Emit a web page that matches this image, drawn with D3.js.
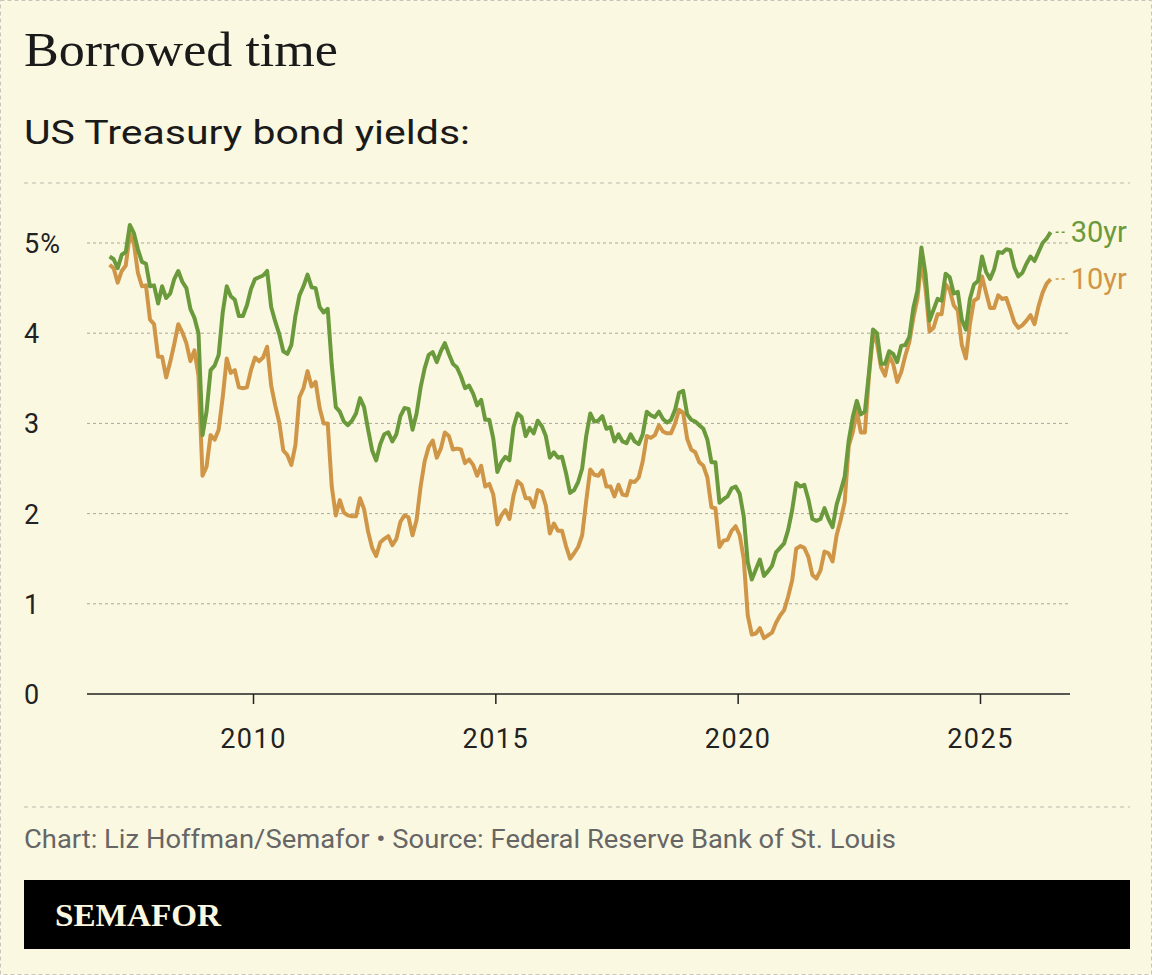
<!DOCTYPE html>
<html><head><meta charset="utf-8">
<script src="https://cdn.jsdelivr.net/npm/d3@7"></script>
<style>
body{margin:0;background:#fff;}
svg{display:block;}
</style></head><body>
<svg id="chart" width="1152" height="975"></svg>
<script>
// monthly averages, Jan 2007 onward
const startYear = 2007;
const tenYear = [
4.76,4.72,4.56,4.69,4.75,5.10,5.00,4.67,4.52,4.53,4.15,4.10,
3.74,3.74,3.51,3.68,3.88,4.10,4.01,3.89,3.69,3.81,3.53,2.42,
2.52,2.87,2.82,2.93,3.29,3.72,3.56,3.59,3.40,3.39,3.40,3.59,
3.73,3.69,3.73,3.85,3.42,3.20,3.01,2.70,2.65,2.54,2.76,3.29,
3.39,3.58,3.41,3.46,3.17,3.00,3.00,2.30,1.98,2.15,2.01,1.98,
1.97,1.97,2.17,2.05,1.80,1.62,1.53,1.68,1.72,1.75,1.65,1.72,
1.91,1.98,1.96,1.76,1.93,2.30,2.58,2.74,2.81,2.62,2.72,2.90,
2.86,2.71,2.72,2.71,2.56,2.60,2.54,2.42,2.53,2.30,2.33,2.21,
1.88,1.98,2.04,1.94,2.20,2.36,2.32,2.17,2.17,2.07,2.26,2.24,
2.09,1.78,1.89,1.81,1.81,1.64,1.50,1.56,1.63,1.76,2.14,2.49,
2.43,2.42,2.48,2.30,2.30,2.19,2.32,2.21,2.20,2.36,2.35,2.40,
2.58,2.86,2.84,2.87,2.98,2.91,2.89,2.89,3.00,3.15,3.12,2.83,
2.71,2.68,2.57,2.53,2.40,2.07,2.06,1.63,1.70,1.71,1.81,1.86,
1.76,1.50,0.87,0.66,0.67,0.73,0.62,0.65,0.68,0.79,0.87,0.93,
1.08,1.26,1.61,1.64,1.62,1.52,1.32,1.28,1.37,1.58,1.56,1.47,
1.76,1.93,2.13,2.75,2.90,3.14,2.90,2.90,3.52,3.98,3.89,3.62,
3.53,3.75,3.66,3.46,3.57,3.75,3.90,4.17,4.38,4.80,4.50,4.02,
4.06,4.21,4.21,4.54,4.48,4.31,4.25,3.87,3.72,4.10,4.36,4.39,
4.63,4.45,4.28,4.28,4.42,4.38,4.39,4.26,4.12,4.06,4.09,4.14,
4.20,4.10,4.30,4.45,4.55,4.60
];
const thirtyYear = [
4.85,4.82,4.72,4.87,4.90,5.20,5.11,4.93,4.79,4.77,4.52,4.53,
4.33,4.52,4.39,4.44,4.60,4.69,4.57,4.50,4.27,4.17,4.00,2.87,
3.13,3.59,3.64,3.76,4.23,4.52,4.41,4.37,4.19,4.19,4.31,4.49,
4.60,4.62,4.64,4.69,4.29,4.13,3.99,3.80,3.77,3.87,4.19,4.42,
4.52,4.65,4.51,4.50,4.29,4.23,4.27,3.65,3.18,3.13,3.02,2.98,
3.03,3.11,3.28,3.18,2.93,2.70,2.59,2.77,2.88,2.90,2.80,2.88,
3.08,3.17,3.16,2.93,3.11,3.40,3.61,3.76,3.79,3.68,3.80,3.89,
3.77,3.66,3.62,3.52,3.39,3.42,3.33,3.20,3.26,3.04,3.04,2.83,
2.46,2.57,2.63,2.59,2.96,3.11,3.07,2.86,2.95,2.89,3.03,2.97,
2.86,2.62,2.68,2.62,2.63,2.45,2.23,2.26,2.35,2.50,2.86,3.11,
3.02,3.03,3.08,2.94,2.96,2.80,2.88,2.80,2.78,2.88,2.80,2.77,
2.88,3.13,3.09,3.07,3.13,3.05,3.01,3.04,3.15,3.34,3.36,3.10,
3.04,3.02,2.98,2.94,2.82,2.57,2.57,2.12,2.16,2.19,2.28,2.30,
2.22,1.97,1.46,1.27,1.38,1.49,1.31,1.36,1.42,1.57,1.62,1.67,
1.82,2.04,2.34,2.30,2.32,2.16,1.94,1.92,1.94,2.06,1.94,1.85,
2.10,2.25,2.41,2.81,3.07,3.25,3.10,3.13,3.56,4.04,4.00,3.66,
3.66,3.80,3.77,3.68,3.86,3.87,3.96,4.28,4.47,4.95,4.66,4.14,
4.26,4.38,4.36,4.66,4.62,4.44,4.46,4.15,4.04,4.38,4.54,4.58,
4.85,4.68,4.60,4.71,4.90,4.89,4.93,4.92,4.73,4.63,4.67,4.77,
4.85,4.80,4.90,5.00,5.05,5.12
];
const yTicks = [0, 1, 2, 3, 4, 5];
const xTicks = [2010, 2015, 2020, 2025];
const seriesNames = ['30yr', '10yr'];
const seriesColors = ['#6b9a3c', '#d09648'];

const svg = d3.select('#chart');
const bg = '#fbf8e1';
const sans = 'Roboto, sans-serif';
svg.append('rect').attr('x', 0.5).attr('y', 0.5).attr('width', 1151).attr('height', 974)
  .attr('fill', bg).attr('stroke', '#c9c6b6').attr('stroke-dasharray', '4,3');

svg.append('text').attr('x', 24).attr('y', 66).text('Borrowed time')
  .attr('font-family', 'Liberation Serif, serif').attr('font-size', 48).attr('fill', '#1a1a1a')
  .attr('textLength', 314).attr('lengthAdjust', 'spacingAndGlyphs');
svg.append('text').attr('x', 24).attr('y', 144).text('US Treasury bond yields:')
  .attr('font-family', sans).attr('font-size', 34).attr('fill', '#1a1a1a')
  .attr('textLength', 446).attr('lengthAdjust', 'spacingAndGlyphs');

const x = d3.scaleLinear().domain([2010, 2025]).range([253, 980]);
const y = d3.scaleLinear().domain([0, 5]).range([694, 243]);

// header/footer separators
[183, 807].forEach(yy => svg.append('line').attr('x1', 24).attr('x2', 1130)
  .attr('y1', yy).attr('y2', yy).attr('stroke', '#bdbab0').attr('stroke-dasharray', '4,4'));

// grid
svg.append('g').selectAll('line').data(yTicks.filter(d => d > 0)).join('line')
  .attr('x1', 87).attr('x2', 1070).attr('y1', d => y(d)).attr('y2', d => y(d))
  .attr('stroke', '#a9a69c').attr('stroke-dasharray', '3,3');

// y labels
svg.append('g').selectAll('text').data(yTicks).join('text')
  .attr('x', 24).attr('y', d => y(d) + 10).text(d => d === 5 ? '5%' : d)
  .attr('font-family', sans).attr('font-size', 27).attr('fill', '#222').attr('letter-spacing', 1);

// x axis
const xAxis = svg.append('g').attr('transform', `translate(0,${y(0)})`)
  .call(d3.axisBottom(x).tickValues(xTicks).tickFormat(d3.format('d')).tickSize(10).tickSizeOuter(0));
xAxis.select('.domain').attr('d', 'M87,0H1070').attr('stroke', '#222').attr('stroke-width', 1.5);
xAxis.selectAll('.tick line').attr('stroke', '#222').attr('stroke-width', 1.5);
xAxis.selectAll('.tick text').attr('font-family', sans).attr('font-size', 27)
  .attr('letter-spacing', 1.5).attr('fill', '#222').attr('dy', '1.5em');

const line = d3.line().x((d, i) => x(startYear + (i + 0.5) / 12)).y(d => y(d));
svg.append('path').datum(tenYear).attr('d', line).attr('fill', 'none')
  .attr('stroke', seriesColors[1]).attr('stroke-width', 4).attr('stroke-linejoin', 'round');
svg.append('path').datum(thirtyYear).attr('d', line).attr('fill', 'none')
  .attr('stroke', seriesColors[0]).attr('stroke-width', 4).attr('stroke-linejoin', 'round');

// end labels
[thirtyYear, tenYear].forEach((s, k) => {
  const i = s.length - 1;
  const ex = x(startYear + (i + 0.5) / 12);
  const ey = y(s[i]);
  svg.append('line').attr('x1', ex + 5).attr('x2', ex + 16).attr('y1', ey).attr('y2', ey)
    .attr('stroke', seriesColors[k]).attr('stroke-width', 1.5).attr('stroke-dasharray', '3,3');
  svg.append('text').attr('x', ex + 20).attr('y', ey + 10).text(seriesNames[k])
    .attr('font-family', sans).attr('font-size', 29).attr('fill', seriesColors[k]);
});

svg.append('text').attr('x', 24).attr('y', 848)
  .text('Chart: Liz Hoffman/Semafor • Source: Federal Reserve Bank of St. Louis')
  .attr('font-family', sans).attr('font-size', 25).attr('fill', '#666')
  .attr('textLength', 872).attr('lengthAdjust', 'spacingAndGlyphs');

svg.append('rect').attr('x', 24).attr('y', 880).attr('width', 1106).attr('height', 69).attr('fill', '#000');
svg.append('text').attr('x', 55).attr('y', 926).text('SEMAFOR')
  .attr('font-family', 'Liberation Serif, serif').attr('font-weight', 'bold').attr('font-size', 32)
  .attr('fill', bg).attr('textLength', 166).attr('lengthAdjust', 'spacingAndGlyphs');
</script>
</body></html>
